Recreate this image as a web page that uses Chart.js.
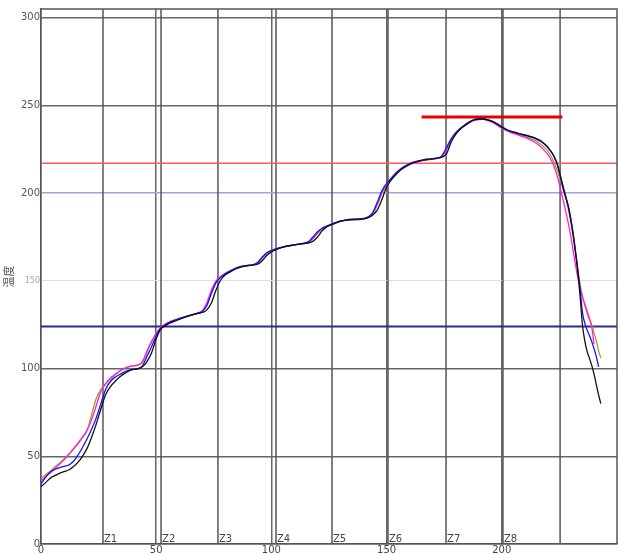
<!DOCTYPE html>
<html>
<head>
<meta charset="utf-8">
<script src="https://cdn.jsdelivr.net/npm/chart.js@4.4.0/dist/chart.umd.min.js"></script>
<style>
  body { margin: 0; background: #fff; }
  #wrap { width: 621px; height: 555px; }
</style>
</head>
<body>
<div id="wrap"><canvas id="profileChart" width="621" height="555"></canvas></div>
<script>
// time axis (sec) - every 2s, then every 1s on the cooling slope
const timeX = [0, 2, 4, 6, 8, 10, 12, 14, 16, 18, 20, 22, 24, 26, 28, 30, 32, 34, 36, 38, 40, 42, 44, 46, 48, 50,
  52, 54, 56, 58, 60, 62, 64, 66, 68, 70, 72, 74, 76, 78, 80, 82, 84, 86, 88, 90, 92, 94, 96, 98, 100, 102, 104, 106, 108, 110,
  112, 114, 116, 118, 120, 122, 124, 126, 128, 130, 132, 134, 136, 138, 140, 142, 144, 146, 148, 150, 152, 154, 156, 158, 160,
  162, 164, 166, 168, 170, 172, 174, 176, 178, 180, 182, 184, 186, 188, 190, 192, 194, 196, 198, 200, 202, 204, 206, 208, 210,
  212, 214, 216, 218, 220, 222,
  223, 224, 225, 226, 227, 228, 229, 230, 231, 232, 233, 234, 235, 236, 237, 238, 239, 240, 241, 242, 243];

const blackTemp = [32.7, 35, 37.5, 39, 40.3, 41.3, 42.2, 44, 46.5, 50, 54.5, 61, 68.5, 77, 85, 89.5, 92.5, 95, 97, 98.5, 99.5, 100, 101, 104, 109, 117,
  122.5, 124.5, 126, 127, 128, 129, 130, 130.8, 131.5, 132,
  133.5, 137.5, 145, 150.5, 153.5, 155, 156.5, 157.5, 158.3, 158.7,
  159, 159.5, 161.5, 164.5, 166.5, 167.8, 168.8, 169.5, 170, 170.5,
  171, 171.3, 171.6, 172.5, 175, 178.5, 180.8, 182, 183, 184,
  184.5, 185, 185, 185, 185.3, 186, 187.5, 190.5, 196.5, 203.5,
  207.5, 210.5, 213, 215, 216.5, 217.5, 218.3, 219, 219.4, 219.7,
  220, 220.5, 222.5, 229, 233.5, 236.5, 238.7, 240.5, 241.8, 242.3,
  242.3, 241.8, 241, 239.5, 237.8, 236.3, 235.2, 234.4, 233.7, 233,
  232.3, 231.5, 230.2, 228.5, 226, 222.5,
  220, 217, 212, 206.5, 201, 196.5, 191.5, 184.5, 176, 166, 155, 141, 125, 116, 110, 106, 102, 97, 91, 85, 80];

const blueTemp = [34.3, 38, 41, 42.5, 43.5, 44.3, 45, 47, 50.5, 55, 60, 65.5, 72, 80, 88, 92.5, 95, 96.5, 98, 99, 99.5, 99.8, 101.5, 107, 112.5, 118.5,
  123, 125, 126.5, 127.5, 128.5, 129.3, 130, 130.8, 131.5, 132.5,
  136, 143, 149, 152, 154, 155.5, 156.8, 157.8, 158.5, 158.8,
  159.2, 160.5, 163.5, 166, 167.3, 168.3, 169, 169.7, 170.2, 170.7,
  171, 171.5, 172.3, 175, 178, 180, 181.2, 182.3, 183.3, 184.2,
  184.7, 185, 185.2, 185.3, 185.6, 186.5, 189, 195, 201.5, 205.5,
  208.5, 211.5, 213.8, 215.5, 216.8, 217.8, 218.5, 219, 219.3, 219.6,
  220, 221.3, 226, 231, 234.5, 237, 239, 240.7, 241.9, 242.3,
  242.3, 241.7, 240.8, 239.3, 237.6, 236.3, 235.3, 234.6, 233.8, 233.2,
  232.5, 231.7, 230.5, 228.8, 226.3, 222.5,
  220, 216.5, 212, 207, 202, 197, 192, 185, 177, 167, 156, 145, 132, 126, 122, 119, 115.5, 111.5, 107, 101, null];

const magentaTemp = [36, 38.5, 40.5, 43, 45.5, 48, 51, 54, 57.5, 61, 65, 71, 79, 87, 91.5, 94.5, 96.5, 98.5, 100, 101, 101.5, 102, 104, 110, 115.5, 120,
  123.5, 125.5, 126.8, 127.8, 128.7, 129.4, 130.2, 131, 131.8, 133,
  137.5, 145, 150, 152.5, 154.3, 155.7, 157, 158, 158.6, 159,
  159.3, 160.3, 163.3, 165.8, 167.2, 168.2, 169, 169.6, 170.1, 170.5,
  170.9, 171.3, 172, 174.3, 177.5, 179.8, 181, 182.1, 183.1, 184,
  184.5, 184.8, 185, 185.1, 185.4, 186.2, 188.5, 194, 200.5, 205,
  208, 211, 213.3, 215, 216.3, 217.3, 218, 218.7, 219.1, 219.4,
  219.8, 221, 225, 230.3, 234, 236.5, 238.5, 240.2, 241.5, 242,
  242.1, 241.3, 240.3, 238.7, 237, 235.6, 234.5, 233.6, 232.7, 231.8,
  230.7, 229.3, 227.5, 225, 222, 217.5,
  214, 210, 205, 199.5, 194, 188, 182, 175, 167, 159, 152, 146, 141, 137, 133, 129, 124, 114, null, null, null];

const oliveTemp = [37.5, 39.5, 41.5, 44, 46, 48.5, 51, 54, 57, 60.5, 64.5, 74, 83, 88, 91, 94, 96.3, 98.3, 100, 101, 101.6, 102, 103.5, 109.5, 115, 120,
  123, 125, 126.5, 127.5, 128.4, 129.2, 130, 130.8, 131.6, 132.6,
  136.5, 143.5, 149.5, 152.3, 154, 155.4, 156.8, 157.8, 158.4, 158.8,
  159.1, 160, 163, 165.6, 167, 168, 168.9, 169.5, 170, 170.5,
  170.9, 171.3, 172, 174, 177, 179.5, 181, 182, 183, 183.9,
  184.5, 184.8, 185, 185.1, 185.4, 186.2, 188.3, 193.5, 200, 204.7,
  208, 211, 213.3, 215.2, 216.5, 217.5, 218.2, 218.8, 219.2, 219.5,
  219.9, 221, 225, 230.5, 234.2, 236.8, 238.8, 240.5, 241.7, 242.2,
  242.2, 241.5, 240.6, 239, 237.3, 236, 235, 234.1, 233.2, 232.4,
  231.5, 230.4, 228.8, 226.6, 224, 219.5,
  216.5, 213, 209, 205, 200.5, 196, 190, 183, 175, 166, 157, 148, 141, 136, 131.5, 128, 125, 120.5, 116, 110, 106];

// oven zones
const zoneX = [26.9, 52.1, 76.8, 102, 126.3, 150.6, 175.8, 200.5, 225.3];
const zoneLabels = ['Z1', 'Z2', 'Z3', 'Z4', 'Z5', 'Z6', 'Z7', 'Z8'];

// limit lines
const liquidusTemp = 217;
const lowLimitTemp = 124;
const peakTemp = 243.5;
const peakRange = [165.2, 226.3];

const xTickValues = [0, 50, 100, 150, 200];
const yTickValues = [0, 50, 100, 150, 200, 250, 300];

const X_MAX = 250;
const Y_MAX = 305;

function toPoints(ys) {
  return timeX.map((x, i) => ({ x: x, y: ys[i] }));
}

function hLine(y, x0, x1, color, width, order) {
  return {
    data: [{ x: x0, y: y }, { x: x1, y: y }],
    borderColor: color, borderWidth: width, pointRadius: 0, order: order
  };
}

const datasets = [];

zoneX.forEach(z => {
  datasets.push({
    data: [{ x: z, y: 0 }, { x: z, y: Y_MAX }],
    borderColor: '#555', borderWidth: 1.5, pointRadius: 0, order: 20
  });
});

datasets.push(hLine(liquidusTemp, 0, X_MAX, '#ff5a5a', 1.5, 10));
datasets.push(hLine(lowLimitTemp, 0, X_MAX, '#23308c', 2, 10));
datasets.push(hLine(peakTemp, peakRange[0], peakRange[1], '#e60000', 3, 10));

const curves = [
  { ys: oliveTemp, color: '#a39d1e', order: 4 },
  { ys: magentaTemp, color: '#ff1ee6', order: 3 },
  { ys: blueTemp, color: '#1414ff', order: 2 },
  { ys: blackTemp, color: '#111111', order: 1 }
];
curves.forEach(c => {
  datasets.push({
    data: toPoints(c.ys),
    borderColor: c.color,
    borderWidth: 1.3,
    pointRadius: 0,
    tension: 0.3,
    cubicInterpolationMode: 'monotone',
    order: c.order
  });
});

// frame on top/right + zone names
const framePlugin = {
  id: 'frameAndZones',
  afterDatasetsDraw(chart) {
    const { ctx, chartArea, scales } = chart;
    ctx.save();
    ctx.strokeStyle = '#555';
    ctx.lineWidth = 1.5;
    ctx.beginPath();
    ctx.moveTo(chartArea.left, chartArea.top);
    ctx.lineTo(chartArea.right, chartArea.top);
    ctx.lineTo(chartArea.right, chartArea.bottom);
    ctx.stroke();

    ctx.fillStyle = '#444';
    ctx.font = '10px "DejaVu Sans", Arial, sans-serif';
    ctx.textBaseline = 'alphabetic';
    zoneLabels.forEach((lbl, i) => {
      const px = scales.x.getPixelForValue(zoneX[i]);
      ctx.fillText(lbl, px + 1, chartArea.bottom - 2);
    });
    ctx.restore();
  }
};

new Chart(document.getElementById('profileChart').getContext('2d'), {
  type: 'line',
  data: { datasets: datasets },
  plugins: [framePlugin],
  options: {
    responsive: false,
    animation: false,
    layout: { padding: { top: 9, right: 4, left: 0, bottom: 0 } },
    plugins: {
      legend: { display: false },
      tooltip: { enabled: false }
    },
    scales: {
      x: {
        type: 'linear',
        min: 0,
        max: X_MAX,
        afterBuildTicks: s => { s.ticks = xTickValues.map(v => ({ value: v })); },
        afterFit: s => { s.height = 11; },
        grid: { color: '#666', lineWidth: 1.5, drawTicks: false },
        border: { color: '#555', width: 1.5 },
        ticks: {
          padding: 0, maxRotation: 0, color: '#444',
          font: { size: 10, family: '"DejaVu Sans", Arial, sans-serif' }
        }
      },
      y: {
        min: 0,
        max: Y_MAX,
        afterBuildTicks: s => { s.ticks = yTickValues.map(v => ({ value: v })); },
        afterFit: s => { s.width = 41; },
        grid: {
          drawTicks: false,
          color: c => c.tick.value === 150 ? '#dedede' : (c.tick.value === 200 ? '#a3a3d8' : '#666'),
          lineWidth: c => c.tick.value === 150 ? 1 : 1.5
        },
        border: { color: '#555', width: 1.5 },
        ticks: {
          padding: 1,
          color: c => c.tick.value === 150 ? '#aaa' : '#555',
          font: c => ({ size: c.tick && c.tick.value === 150 ? 8 : 10, family: '"DejaVu Sans", Arial, sans-serif' })
        },
        title: {
          display: true,
          text: '温度',
          color: '#555',
          font: { size: 11, family: '"Noto Sans CJK SC", sans-serif' },
          padding: { top: 2, bottom: 0 }
        }
      }
    }
  }
});
</script>
</body>
</html>
